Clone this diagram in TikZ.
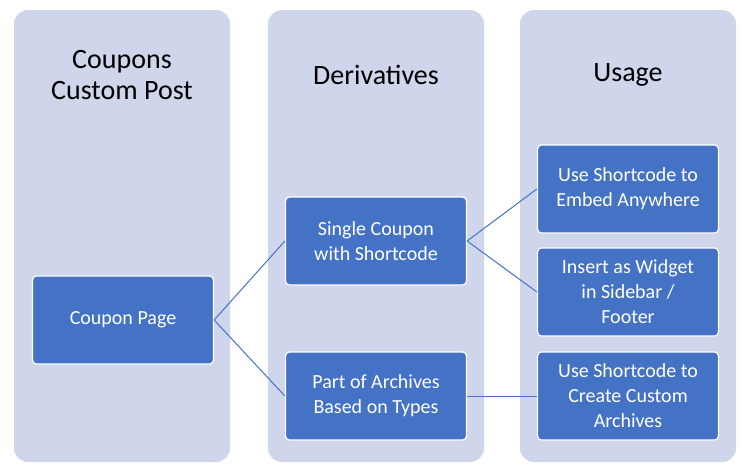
\documentclass[tikz,border=0pt]{standalone}
\usepackage{fontspec}
\setmainfont{Carlito}
\usetikzlibrary{positioning}
\definecolor{panel}{HTML}{CFD5EA}
\definecolor{boxblue}{HTML}{4472C4}
\tikzset{
  lane/.style={fill=panel, rounded corners=14pt},
  head/.style={font=\fontsize{28}{31}\selectfont, align=center},
  item/.style={fill=boxblue, draw=white, line width=1.2pt, rounded corners=4pt,
    minimum width=181pt, minimum height=88pt, text=white, align=center,
    font=\fontsize{20}{25}\selectfont},
  link/.style={draw=boxblue, line width=1pt}
}
\begin{document}
\begin{tikzpicture}[x=1pt, y=-1pt]
    \useasboundingbox (0,0) rectangle (746,475);
    % lanes
    \fill[lane] (14,10) rectangle (230,462);
    \fill[lane] (268,10) rectangle (484,462);
    \fill[lane] (520,10) rectangle (736,462);
    \node[head] (hcoupons) at (122,75) {Coupons\\Custom Post};
    \node[head] (hderiv) at (376,75) {Derivatives};
    \node[head] (husage) at (628,75) {Usage};
    % boxes
    \node[item] (page) at (123,320) {Coupon Page};
    \node[item] (single) at (376,241) {Single Coupon\\with Shortcode};
    \node[item] (archives) at (376,396) {Part of Archives\\Based on Types};
    \node[item] (embed) at (628,189) {Use Shortcode to\\Embed Anywhere};
    \node[item] (widget) at (628,292) {Insert as Widget\\in Sidebar /\\Footer};
    \node[item] (create) at (628,396) {Use Shortcode to\\Create Custom\\Archives};
    % links
    \draw[link] (page.east) -- (single.west);
    \draw[link] (page.east) -- (archives.west);
    \draw[link] (single.east) -- (embed.west);
    \draw[link] (single.east) -- (widget.west);
    \draw[link] (archives.east) -- (create.west);
\end{tikzpicture}
\end{document}
